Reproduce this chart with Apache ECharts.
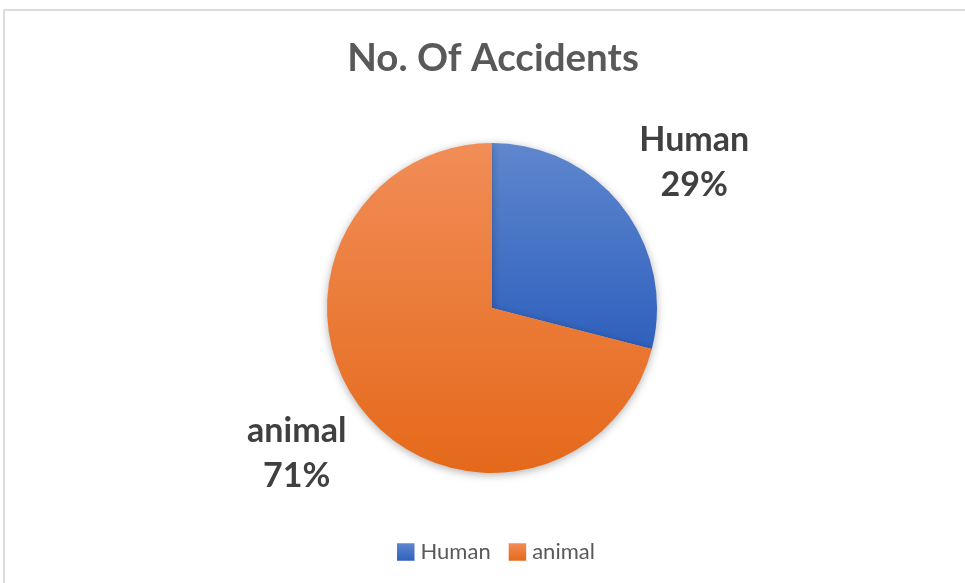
<!DOCTYPE html>
<html>
<head>
<meta charset="utf-8">
<script src="https://cdn.jsdelivr.net/npm/echarts@6/dist/echarts.min.js"></script>
<style>
  html, body { margin: 0; padding: 0; background: #ffffff; }
  #frame { position: absolute; left: 3px; top: 9px; width: 1000px; height: 600px; border: 2px solid #dcdcdc; box-sizing: border-box; }
  #chart { position: absolute; left: 0; top: 0; width: 965px; height: 583px; }
</style>
</head>
<body>
<div id="frame"></div>
<div id="chart"></div>
<script>
const titleText = 'No. Of Accidents';
const categories = ['Human', 'animal'];
const values = [29, 71];

const colors = [
  ['#5f87ce', '#2f60bd'],
  ['#f18d57', '#e5691a']
];
const labelShift = [-50, -57];

const chart = echarts.init(document.getElementById('chart'), null, { renderer: 'canvas' });

const data = categories.map((name, i) => ({
  name: name,
  value: values[i],
  labelLine: { show: false, length: 72, length2: labelShift[i] },
  itemStyle: {
    color: new echarts.graphic.LinearGradient(0, 0, 0, 1, [
      { offset: 0, color: colors[i][0] },
      { offset: 1, color: colors[i][1] }
    ])
  }
}));

chart.setOption({
  animation: false,
  title: {
    text: titleText,
    left: 488,
    textAlign: 'center',
    top: 34,
    textStyle: { fontFamily: 'Lato', fontWeight: 'bold', fontSize: 38.5, color: '#595959' }
  },
  legend: {
    data: categories,
    top: 536,
    left: 392,
    itemWidth: 17.5,
    itemHeight: 17.5,
    itemGap: 18,
    icon: 'rect',
    itemStyle: { shadowBlur: 0, shadowOffsetY: 0, shadowColor: 'transparent' },
    textStyle: { fontFamily: 'Lato', fontSize: 22, color: '#595959', padding: [0, 0, 0, 1] }
  },
  series: [{
    type: 'pie',
    center: [492, 308],
    radius: 165,
    startAngle: 90,
    clockwise: true,
    avoidLabelOverlap: false,
    data: data,
    itemStyle: {
      shadowBlur: 8,
      shadowColor: 'rgba(0,0,0,0.3)',
      shadowOffsetY: 2
    },
    label: {
      show: true,
      position: 'outside',
      formatter: '{a|{b}}\n{a|{d}%}',
      rich: {
        a: {
          width: 120,
          align: 'center',
          fontFamily: 'Lato',
          fontWeight: 'bold',
          fontSize: 34,
          lineHeight: 45,
          color: '#404040'
        }
      }
    },
    labelLine: { show: false, length: 72, length2: -50 },
    emphasis: { disabled: true }
  }]
});
</script>
</body>
</html>
